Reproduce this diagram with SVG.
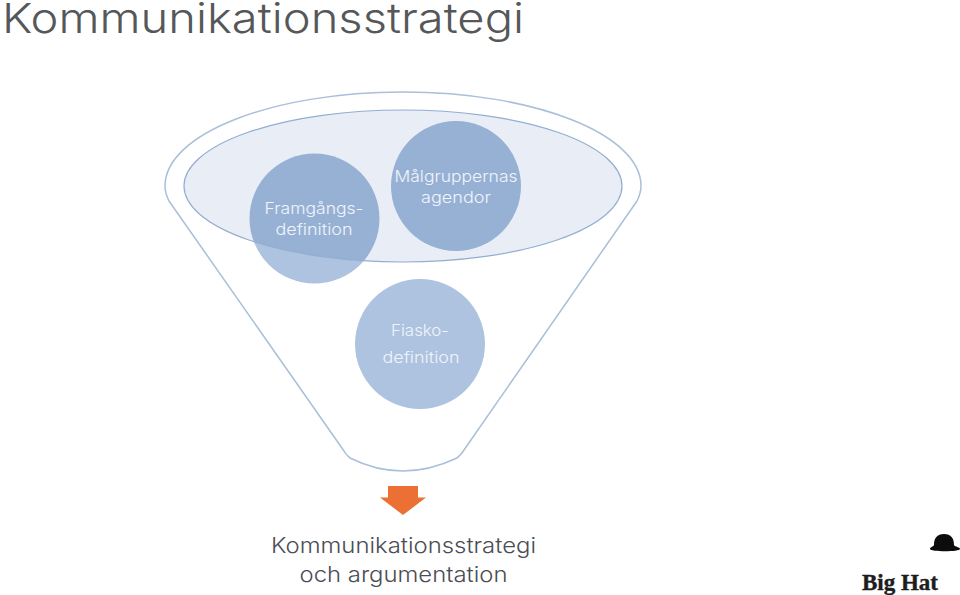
<svg xmlns="http://www.w3.org/2000/svg" width="960" height="595" viewBox="0 0 960 595">
<style>
text{font-family:"Inter","Noto Sans","Liberation Sans",sans-serif;font-weight:300;text-anchor:middle}
.c{fill:#aec3e0}
.o{fill:#97b1d5}
.l{fill:#f0f4fa;font-size:16px}
.d{fill:#4a4d55;font-size:22px}
</style>
<defs><clipPath id="inner"><ellipse cx="403" cy="186" rx="219" ry="76"/></clipPath></defs>
<rect width="960" height="595" fill="#fff"/>
<g id="connectors">
<path id="funnel" d="M169 201C166 195 165 191 165 186C165 134 272 92 403 92C534 92 641 134 641 186C641 191 640 195 637 201L464 450C461 455 459 456 457 458C440 466 422 471 403 471C384 471 366 466 350 458C348 456 346 455 344 451Z" fill="none" stroke="#a9bfda" stroke-width="1.500"/>
<path id="arrow" d="M388 486H418V497.500H426L403 515L380 497.500H388Z" fill="#ec7033"/>
</g>
<text x="263" y="33" style="font-size:41px;fill:#555759" textLength="522" lengthAdjust="spacingAndGlyphs">Kommunikationsstrategi</text>
<g id="node-framgang"><circle class="c" cx="314.500" cy="218.500" r="65"/></g>
<g id="node-fiasko"><circle class="c" cx="420" cy="344" r="65"/></g>
<g id="node-top"><ellipse cx="403" cy="186" rx="219" ry="76" fill="#e9edf6"/></g>
<g id="node-overlap"><circle class="o" cx="314.500" cy="218.500" r="65" clip-path="url(#inner)"/></g>
<g id="node-malgrupp"><circle class="o" cx="456" cy="186" r="65"/></g>
<ellipse cx="403" cy="186" rx="219" ry="76" fill="none" stroke="#93aed0" stroke-width="1.200"/>
<text class="l" x="314" y="214" textLength="99" lengthAdjust="spacingAndGlyphs">Framgångs-</text>
<text class="l" x="314" y="235" textLength="77" lengthAdjust="spacingAndGlyphs">definition</text>
<text class="l" x="456" y="182" textLength="123" lengthAdjust="spacingAndGlyphs">Målgruppernas</text>
<text class="l" x="456" y="203" textLength="70" lengthAdjust="spacingAndGlyphs">agendor</text>
<text class="l" x="420" y="336" textLength="58" lengthAdjust="spacingAndGlyphs">Fiasko-</text>
<text class="l" x="421" y="363" textLength="77" lengthAdjust="spacingAndGlyphs">definition</text>
<text class="d" x="403.500" y="553" textLength="265" lengthAdjust="spacingAndGlyphs">Kommunikationsstrategi</text>
<text class="d" x="403.500" y="582" textLength="208" lengthAdjust="spacingAndGlyphs">och argumentation</text>
<g id="logo">
<path d="M930 549C930 547 933 547 934 545C934 538 937 534 944 534C951 534 954 538 954 545C955 547 960 547 960 549C960 552 930 552 930 549Z" fill="#0c0c0c"/>
<text x="900" y="590" style="font-family:'Liberation Serif',serif;font-weight:700;font-size:23px;fill:#1d1d1d;stroke:#1d1d1d;stroke-width:.4" textLength="76" lengthAdjust="spacingAndGlyphs">Big Hat</text>
</g>
</svg>
